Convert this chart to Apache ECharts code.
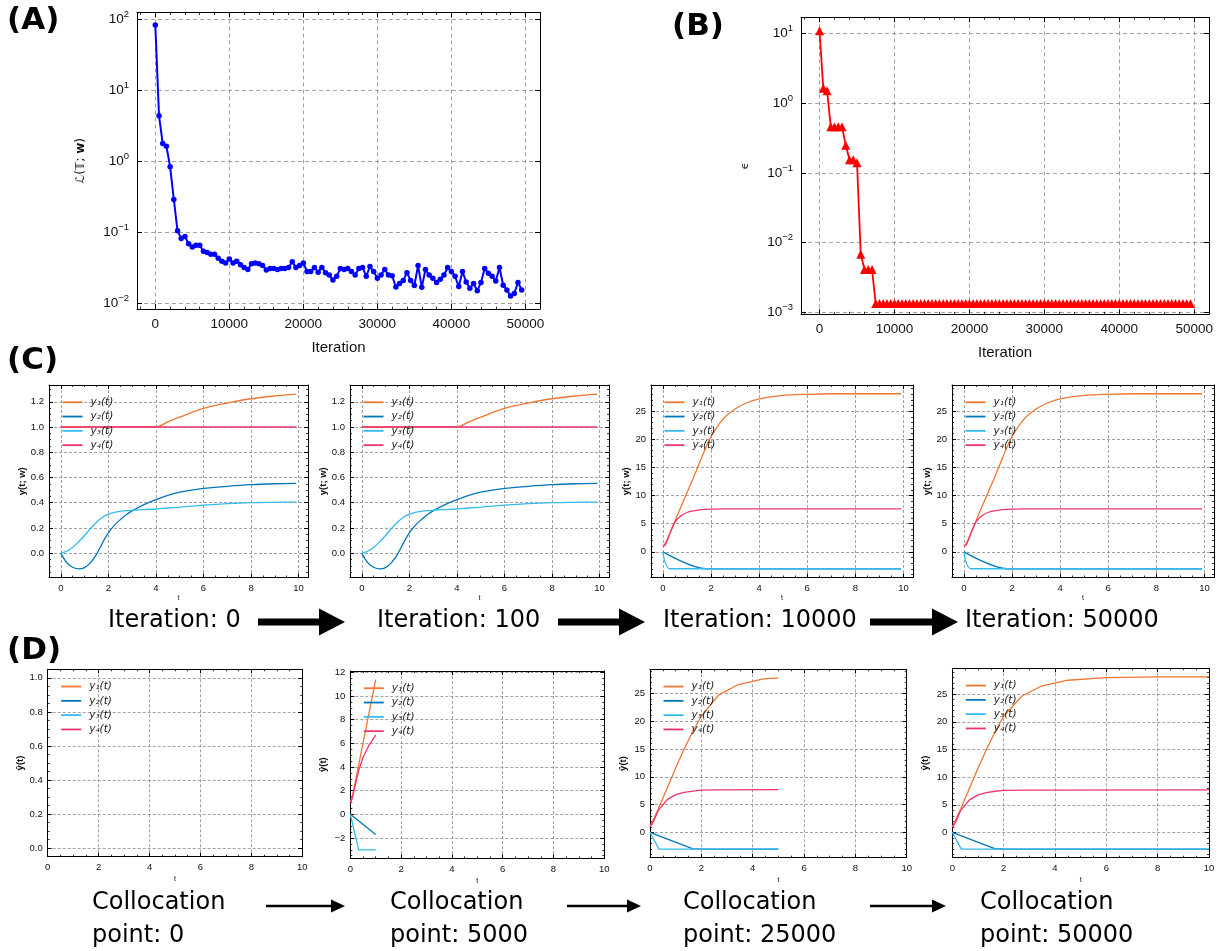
<!DOCTYPE html>
<html>
<head>
<meta charset="utf-8">
<title>Training progress</title>
<script src="https://cdn.jsdelivr.net/npm/echarts@6/dist/echarts.min.js"></script>
<style>
  html, body { margin: 0; padding: 0; background: #fff; }
  #main { width: 1218px; height: 951px; }
</style>
</head>
<body>
<div id="main"></div>
<script>
// ---- data ----
var lossStep = 500;   // one point every 500 iterations, 0 .. 49500
var lossValues = [83, 4.4, 1.78, 1.63, 0.84, 0.29, 0.105, 0.082, 0.087, 0.069,
  0.062, 0.066, 0.066, 0.054, 0.052, 0.049, 0.049, 0.043, 0.039, 0.037,
  0.042, 0.037, 0.039, 0.035, 0.032, 0.030, 0.036, 0.037, 0.036, 0.034,
  0.0295, 0.031, 0.031, 0.030, 0.031, 0.031, 0.032, 0.0385, 0.032, 0.034,
  0.037, 0.028, 0.028, 0.032, 0.0275, 0.032, 0.027, 0.025, 0.0213, 0.024,
  0.031, 0.030, 0.031, 0.028, 0.025, 0.031, 0.032, 0.024, 0.033, 0.028,
  0.0225, 0.025, 0.030, 0.025, 0.0245, 0.017, 0.019, 0.021, 0.027, 0.021,
  0.0178, 0.034, 0.0168, 0.030, 0.025, 0.0225, 0.0197, 0.0218, 0.025, 0.032,
  0.028, 0.024, 0.0172, 0.028, 0.020, 0.0163, 0.019, 0.015, 0.0197, 0.031,
  0.0265, 0.024, 0.0206, 0.032, 0.018, 0.0154, 0.0127, 0.0138, 0.0197, 0.0154];

var epsValues = [11, 1.64, 1.52, 0.46, 0.46, 0.46, 0.46, 0.25, 0.155, 0.155,
  0.14, 0.0068, 0.0041, 0.0041, 0.0041, 0.00133, 0.00133, 0.00133, 0.00133, 0.00133,
  0.00133, 0.00133, 0.00133, 0.00133, 0.00133, 0.00133, 0.00133, 0.00133, 0.00133, 0.00133,
  0.00133, 0.00133, 0.00133, 0.00133, 0.00133, 0.00133, 0.00133, 0.00133, 0.00133, 0.00133,
  0.00133, 0.00133, 0.00133, 0.00133, 0.00133, 0.00133, 0.00133, 0.00133, 0.00133, 0.00133,
  0.00133, 0.00133, 0.00133, 0.00133, 0.00133, 0.00133, 0.00133, 0.00133, 0.00133, 0.00133,
  0.00133, 0.00133, 0.00133, 0.00133, 0.00133, 0.00133, 0.00133, 0.00133, 0.00133, 0.00133,
  0.00133, 0.00133, 0.00133, 0.00133, 0.00133, 0.00133, 0.00133, 0.00133, 0.00133, 0.00133,
  0.00133, 0.00133, 0.00133, 0.00133, 0.00133, 0.00133, 0.00133, 0.00133, 0.00133, 0.00133,
  0.00133, 0.00133, 0.00133, 0.00133, 0.00133, 0.00133, 0.00133, 0.00133, 0.00133, 0.00133];

// (C) network output y(t; w), [t, value]
var earlyY1 = [[0, 1], [4, 1], [4.5, 1.04], [5, 1.078], [6, 1.147], [7, 1.19], [8, 1.224], [9, 1.246], [9.9, 1.261]];
var earlyY2 = [[0, 0], [0.25, -0.075], [0.5, -0.112], [0.75, -0.125], [1, -0.115], [1.25, -0.075], [1.5, -0.01],
  [1.75, 0.08], [2, 0.16], [2.25, 0.22], [2.5, 0.265], [2.75, 0.305], [3, 0.335], [3.5, 0.385], [4, 0.425],
  [4.5, 0.458], [5, 0.483], [6, 0.513], [7, 0.53], [8, 0.543], [9, 0.55], [9.9, 0.553]];
var earlyY3 = [[0, 0], [0.25, 0.015], [0.5, 0.045], [0.75, 0.09], [1, 0.14], [1.25, 0.195], [1.5, 0.245],
  [1.75, 0.285], [2, 0.31], [2.25, 0.324], [2.5, 0.332], [2.75, 0.337], [3, 0.34], [3.5, 0.345], [4, 0.35],
  [4.5, 0.358], [5, 0.365], [6, 0.38], [7, 0.392], [8, 0.4], [9, 0.403], [9.9, 0.405]];
var earlyY4 = [[0, 1], [9.9, 1]];

var lateY1 = [[0, 1], [0.1, 1.5], [0.25, 2.9], [0.5, 5.5], [0.75, 8], [1, 10.5], [1.25, 13], [1.5, 15.6],
  [1.75, 18.2], [2, 20.5], [2.5, 23.6], [3, 25.4], [3.5, 26.5], [4, 27.2], [5, 27.8], [6, 28],
  [7, 28.1], [8, 28.1], [9, 28.1], [9.9, 28.1]];
var lateY2 = [[0, 0], [1.8, -3], [9.9, -3]];
var lateY3 = [[0, 0], [0.3, -3], [9.9, -3]];
var lateY4 = [[0, 1], [0.1, 1.3], [0.25, 2.8], [0.5, 5.3], [0.75, 6.4], [1, 7], [1.25, 7.3], [1.5, 7.45],
  [1.75, 7.55], [2, 7.6], [2.5, 7.65], [3, 7.65], [5, 7.65], [9.9, 7.65]];

// (D) collocation predictions ŷ(t), [t, value]
var coll5000Y1 = [[0, 1], [0.1, 1.7], [1, 11.4]];
var coll5000Y2 = [[0, 0], [1, -1.7]];
var coll5000Y3 = [[0, 0], [0.33, -3], [1, -3]];
var coll5000Y4 = [[0, 1], [0.07, 1.3], [0.33, 3.7], [0.5, 4.8], [0.75, 5.9], [1, 6.7]];

var coll25000Y1 = [[0, 1], [0.33, 4.3], [0.67, 8], [1, 11.6], [1.33, 15], [1.67, 18.2], [2, 20.9],
  [2.67, 24.7], [3.44, 26.6], [4.42, 27.6], [5, 27.8]];
var coll25000Y2 = [[0, 0], [1.65, -2.9], [2.1, -3], [5, -3]];
var coll25000Y3 = [[0, 0], [0.35, -3], [5, -3]];
var coll25000Y4 = [[0, 1], [0.1, 1.6], [0.33, 4], [0.67, 5.9], [1, 6.8], [1.33, 7.2], [1.67, 7.45],
  [2, 7.6], [2.67, 7.65], [5, 7.7]];

var coll50000Y1 = [[0, 1], [0.33, 4.3], [0.67, 8], [1, 11.6], [1.33, 15], [1.67, 18.2], [2, 21],
  [2.7, 24.6], [3.5, 26.5], [4.5, 27.5], [6, 27.97], [8, 28.1], [10, 28.1]];
var coll50000Y2 = [[0, 0], [1.65, -2.9], [2.1, -3], [10, -3]];
var coll50000Y3 = [[0, 0], [0.35, -3], [10, -3]];
var coll50000Y4 = [[0, 1], [0.1, 1.6], [0.33, 4], [0.67, 5.9], [1, 6.8], [1.33, 7.2], [1.67, 7.45],
  [2, 7.6], [3, 7.65], [10, 7.7]];

var seriesNames = ['y\u2081(t)', 'y\u2082(t)', 'y\u2083(t)', 'y\u2084(t)'];
var seriesColors = ['#EE7733', '#0077BB', '#33BBEE', '#EE3377'];
var iterationLabels = ['Iteration: 0', 'Iteration: 100', 'Iteration: 10000', 'Iteration: 50000'];
var collocationLabels = ['Collocation\npoint: 0', 'Collocation\npoint: 5000', 'Collocation\npoint: 25000', 'Collocation\npoint: 50000'];

// ---- building ----
var chart = echarts.init(document.getElementById('main'));
var grids = [], xAxes = [], yAxes = [], series = [], legends = [];
var FONT = 'Liberation Sans, Arial, sans-serif';

function minus(s) { return String(s).replace('-', '\u2212'); }
function plain(v) { return minus(v); }
function fixed1(v) { return minus(v.toFixed(1)); }

function powLabel(v) {
  var e = Math.log10(v), r = Math.round(e);
  if (Math.abs(e - r) > 1e-6) return '';
  return '{b|10}{s|' + minus(r) + '}';
}

function makeAxis(g, c, pos, mirror) {
  var ax = {
    type: c.type || 'value', gridIndex: g, position: pos,
    min: c.min, max: c.max,
    axisLine: { show: true, onZero: false, lineStyle: { color: '#000', width: 1 } },
    axisTick: { show: true, inside: true, length: c.tick, lineStyle: { color: '#000', width: 1 } },
    minorTick: { show: !!c.minor, splitNumber: c.minor || 5, length: c.tick / 2, lineStyle: { color: '#000', width: 0.8 } },
    splitLine: { show: !mirror, lineStyle: { type: c.dash, color: '#8a8a8a', width: 0.8 } },
    axisLabel: { show: false },
    silent: true
  };
  if (c.type === 'log') { ax.logBase = 10; }
  else { ax.splitNumber = c.split || 5; }
  if (!mirror) {
    ax.axisLabel = {
      show: true, fontSize: c.font, fontFamily: FONT, color: '#111', margin: c.margin,
      showMinLabel: !!c.edgeLabels, showMaxLabel: !!c.edgeLabels,
      formatter: c.formatter || plain
    };
    if (c.rich) ax.axisLabel.rich = c.rich;
    if (c.name) {
      ax.name = c.name;
      ax.nameLocation = 'middle';
      ax.nameGap = c.nameGap;
      ax.nameTextStyle = { fontSize: c.nameSize, fontFamily: c.nameFont || FONT, color: '#111',
        fontWeight: c.nameWeight || 'normal', rich: c.nameRich };
    }
  }
  return ax;
}

function addPanel(box, xc, yc) {
  var g = grids.length;
  grids.push({ left: box[0], top: box[1], width: box[2], height: box[3], containLabel: false, outerBoundsMode: 'none' });
  xAxes.push(makeAxis(g, xc, 'bottom', false));
  xAxes.push(makeAxis(g, xc, 'top', true));
  yAxes.push(makeAxis(g, yc, 'left', false));
  yAxes.push(makeAxis(g, yc, 'right', true));
  return 2 * g;
}

function addCurves(axisIndex, curves, smooth, box) {
  curves.forEach(function (d, k) {
    series.push({
      type: 'line', name: seriesNames[k], xAxisIndex: axisIndex, yAxisIndex: axisIndex,
      data: d, showSymbol: false, smooth: smooth ? 0.3 : false,
      lineStyle: { color: seriesColors[k], width: 1.3 }, itemStyle: { color: seriesColors[k] },
      emphasis: { disabled: true }, animation: false
    });
  });
  legends.push({
    data: seriesNames, orient: 'vertical', left: box[0] + 8.5, top: box[1] + 6,
    icon: 'rect', itemWidth: 20, itemHeight: 1.8, itemGap: 1.8, selectedMode: false,
    textStyle: { fontSize: 10.5, fontStyle: 'italic', fontFamily: 'DejaVu Sans', color: '#222', lineHeight: 12.5, padding: [0, 0, 0, 3] }
  });
}

var logRich = { b: { fontSize: 13.5, fontFamily: FONT, color: '#111' },
                s: { fontSize: 9.5, fontFamily: FONT, color: '#111', padding: [0, 0, 10, 0] } };
var iterAxis = { min: -2475, max: 51975, tick: 5, minor: 5, dash: [4, 3], font: 13.5, margin: 8,
  name: 'Iteration', nameGap: 31, nameSize: 15 };

// (A) loss
var boxA = [137, 12.5, 403, 296.5];
var ia = addPanel(boxA, iterAxis,
  { type: 'log', min: Math.pow(10, -2.08), max: Math.pow(10, 2.096), tick: 5, dash: [4, 3], margin: 8,
    formatter: powLabel, rich: logRich,
    name: '\u2112(\uD835\uDD4B; {w|w})', nameGap: 50, nameSize: 12, nameFont: 'DejaVu Sans',
    nameRich: { w: { fontWeight: 'bold', fontSize: 12, fontFamily: 'DejaVu Sans', color: '#111' } } });
series.push({
  type: 'line', xAxisIndex: ia, yAxisIndex: ia,
  data: lossValues.map(function (v, i) { return [i * lossStep, v]; }),
  symbol: 'circle', symbolSize: 5.5, showSymbol: true,
  lineStyle: { color: '#0000ff', width: 2 }, itemStyle: { color: '#0000ff' }, animation: false
});

// (B) epsilon
var boxB = [801, 17.3, 408, 297];
var ib = addPanel(boxB, iterAxis,
  { type: 'log', min: Math.pow(10, -3.03), max: Math.pow(10, 1.235), tick: 5, dash: [4, 3], margin: 8,
    formatter: powLabel, rich: logRich, name: '\u03F5', nameGap: 50, nameSize: 11, nameFont: 'DejaVu Sans' });
series.push({
  type: 'line', xAxisIndex: ib, yAxisIndex: ib,
  data: epsValues.map(function (v, i) { return [i * lossStep, v]; }),
  symbol: 'triangle', symbolSize: 9, showSymbol: true,
  lineStyle: { color: '#ff0000', width: 1.8 }, itemStyle: { color: '#ff0000' }, animation: false
});

// (C) network outputs
var tAxisC = { min: -0.495, max: 10.395, tick: 4, minor: 4, dash: [3, 2], font: 9.5, margin: 6,
  name: 't', nameGap: 17, nameSize: 7 };
var yNameC = { name: 'y(t; w)', nameGap: 19, nameSize: 9.5, nameWeight: 'bold' };
var boxesC = [[49, 385, 259, 192.5], [350, 385, 259, 192.5], [651, 385, 262, 192.5], [952, 385, 262, 192.5]];
var curvesC = [
  [earlyY1, earlyY2, earlyY3, earlyY4],
  [earlyY1, earlyY2, earlyY3, earlyY4],   // iteration 100 looks the same as iteration 0
  [lateY1, lateY2, lateY3, lateY4],
  [lateY1, lateY2, lateY3, lateY4]        // iteration 50000 looks the same as 10000
];
boxesC.forEach(function (box, i) {
  var early = i < 2;
  var yc = Object.assign({ tick: 4, minor: early ? 4 : 5, dash: [3, 2], font: 9.5, margin: 5 }, yNameC,
    early ? { min: -0.193, max: 1.333, split: 7, formatter: fixed1 }
          : { min: -4.555, max: 29.655, split: 5, formatter: plain });
  var idx = addPanel(box, tAxisC, yc);
  addCurves(idx, curvesC[i], true, box);
});

// (D) collocation predictions
var tAxisD = { min: 0, max: 10, tick: 4, minor: 4, dash: [3, 2], font: 9.5, margin: 6, edgeLabels: true,
  formatter: plain, name: 't', nameGap: 19, nameSize: 7 };
var boxesD = [[47.7, 669.3, 254.6, 187.4], [350.3, 671, 254, 187.3], [650, 669.3, 256.7, 188.4], [952.3, 668.3, 256.7, 189.4]];
var yRangesD = [[-0.05, 1.05, 5, fixed1], [-3.72, 12.12, 7, plain], [-4.54, 29.34, 5, plain], [-4.555, 29.655, 5, plain]];
var curvesD = [
  [[], [], [], []],
  [coll5000Y1, coll5000Y2, coll5000Y3, coll5000Y4],
  [coll25000Y1, coll25000Y2, coll25000Y3, coll25000Y4],
  [coll50000Y1, coll50000Y2, coll50000Y3, coll50000Y4]
];
boxesD.forEach(function (box, i) {
  var r = yRangesD[i];
  var yc = { min: r[0], max: r[1], split: r[2], formatter: r[3], tick: 4, minor: i === 2 || i === 3 ? 5 : 4,
    dash: [3, 2], font: 9.5, margin: 5, name: '\u0177(t)', nameGap: 22, nameSize: 9.5, nameWeight: 'bold' };
  var idx = addPanel(box, tAxisD, yc);
  addCurves(idx, curvesD[i], false, box);
});

// ---- annotations ----
function arrow(x0, x1, y, shaft, headLen, headHalf) {
  var h = shaft / 2;
  return { type: 'polygon', silent: true,
    shape: { points: [[x0, y - h], [x1 - headLen, y - h], [x1 - headLen, y - headHalf], [x1, y],
                      [x1 - headLen, y + headHalf], [x1 - headLen, y + h], [x0, y + h]] },
    style: { fill: '#000' } };
}
function label(text, x, y, size, weight) {
  return { type: 'text', x: x, y: y, silent: true,
    style: { text: text, fontSize: size, fontWeight: weight || 'normal', fontFamily: 'DejaVu Sans',
             fill: '#000', align: 'left', verticalAlign: 'middle', lineHeight: 33 } };
}

var graphics = [
  label('(A)', 7, 21, 31, 'bold'),
  label('(B)', 672, 27, 31, 'bold'),
  label('(C)', 7, 361, 31, 'bold'),
  label('(D)', 7, 651, 31, 'bold')
];
var iterX = [108, 377, 663, 965];
iterationLabels.forEach(function (t, i) { graphics.push(label(t, iterX[i], 621, 24)); });
[[258, 345], [558, 645], [870, 958]].forEach(function (a) { graphics.push(arrow(a[0], a[1], 622, 7, 26, 13.5)); });
var collX = [92, 390, 683, 980];
collocationLabels.forEach(function (t, i) { graphics.push(label(t, collX[i], 919, 24)); });
[[266, 345], [567, 641], [870, 946]].forEach(function (a) { graphics.push(arrow(a[0], a[1], 906, 2.6, 14, 6.5)); });

chart.setOption({
  backgroundColor: '#fff',
  animation: false,
  grid: grids,
  xAxis: xAxes,
  yAxis: yAxes,
  legend: legends,
  series: series,
  graphic: graphics
});
</script>
</body>
</html>
